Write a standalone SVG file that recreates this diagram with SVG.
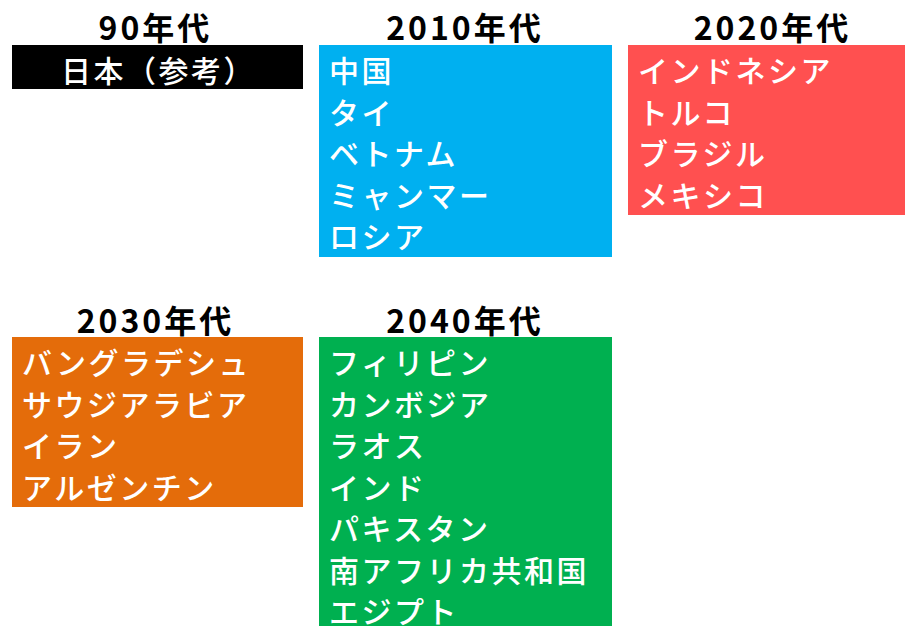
<svg xmlns="http://www.w3.org/2000/svg" width="905" height="626" viewBox="0 0 905 626">
<style>
.hd{font-family:"Noto Sans CJK JP","Liberation Sans",sans-serif;font-size:32px;font-weight:700;fill:#000;text-anchor:middle;letter-spacing:3px}
.tx{font-family:"Noto Sans CJK JP","Liberation Sans",sans-serif;font-size:30px;font-weight:500;fill:#fff;letter-spacing:2.5px}
.c{text-anchor:middle}
</style>
<rect width="905" height="626" fill="#fff"/>
<g id="n90">
<text class="hd" x="155.5" y="40">90年代</text>
<rect x="12" y="45" width="291" height="44" fill="#000"/>
<text class="tx c" x="158.5" y="82">日本（参考）</text>
</g>
<g id="n2010">
<text class="hd" x="465" y="40">2010年代</text>
<rect x="319" y="45" width="293" height="212" fill="#00B0F0"/>
<text class="tx" x="329" y="82">中国</text>
<text class="tx" x="329" y="123.5">タイ</text>
<text class="tx" x="329" y="165">ベトナム</text>
<text class="tx" x="329" y="206.5">ミャンマー</text>
<text class="tx" x="329" y="248">ロシア</text>
</g>
<g id="n2020">
<text class="hd" x="772.5" y="40">2020年代</text>
<rect x="628" y="45" width="293" height="170" fill="#FF5050"/>
<text class="tx" x="638" y="82">インドネシア</text>
<text class="tx" x="638" y="123.5">トルコ</text>
<text class="tx" x="638" y="165">ブラジル</text>
<text class="tx" x="638" y="206.5">メキシコ</text>
</g>
<g id="n2030">
<text class="hd" x="155.5" y="333">2030年代</text>
<rect x="12" y="337" width="291" height="170" fill="#E46C0A"/>
<text class="tx" x="22" y="374">バングラデシュ</text>
<text class="tx" x="22" y="415.5">サウジアラビア</text>
<text class="tx" x="22" y="457">イラン</text>
<text class="tx" x="22" y="498.5">アルゼンチン</text>
</g>
<g id="n2040">
<text class="hd" x="465" y="333">2040年代</text>
<rect x="319" y="337" width="293" height="300" fill="#00B050"/>
<text class="tx" x="329" y="374">フィリピン</text>
<text class="tx" x="329" y="415.5">カンボジア</text>
<text class="tx" x="329" y="457">ラオス</text>
<text class="tx" x="329" y="498.5">インド</text>
<text class="tx" x="329" y="540">パキスタン</text>
<text class="tx" x="329" y="581.5">南アフリカ共和国</text>
<text class="tx" x="329" y="623">エジプト</text>
</g>
</svg>
